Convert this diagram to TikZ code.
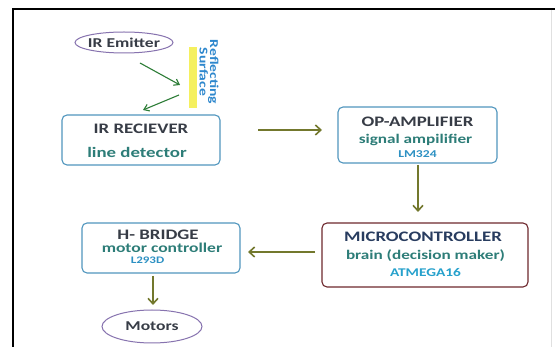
\documentclass[tikz,border=0pt]{standalone}
\usepackage{fontspec}
\setmainfont[FakeStretch=1.3]{Carlito}
\usetikzlibrary{arrows.meta,shapes.geometric}
\definecolor{boxblue}{RGB}{80,150,190}
\definecolor{mcured}{RGB}{110,40,45}
\definecolor{titlegray}{RGB}{55,60,70}
\definecolor{titlenavy}{RGB}{40,60,95}
\definecolor{subteal}{RGB}{45,125,120}
\definecolor{partblue}{RGB}{45,145,195}
\definecolor{olivearr}{RGB}{115,120,45}
\definecolor{greenarr}{RGB}{45,125,55}
\definecolor{ellpurple}{RGB}{135,115,175}
\definecolor{barYellow}{RGB}{245,240,95}
\definecolor{reflblue}{RGB}{45,135,205}
\tikzset{
  blk/.style={draw=boxblue, rounded corners=5pt, line width=1.1pt, inner sep=0pt},
  ell/.style={ellipse, draw=ellpurple, line width=1pt, inner sep=0pt},
  ttl/.style={font=\bfseries\fontsize{14.5}{15}\selectfont, text=titlegray, inner sep=0pt},
  sub/.style={font=\bfseries\fontsize{13}{14}\selectfont, text=subteal, inner sep=0pt},
  part/.style={font=\bfseries\fontsize{11}{12}\selectfont, text=partblue, inner sep=0pt},
  olarr/.style={draw=olivearr, line width=1.7pt, -{Straight Barb[length=5.5pt,width=10pt,line width=1.6pt]}},
  grarr/.style={draw=greenarr, line width=1.1pt, -{Straight Barb[length=5pt,width=7pt]}},
}
\begin{document}
\begin{tikzpicture}[x=1pt,y=-1pt]
\useasboundingbox (0,0) rectangle (555,347);
\fill[white] (0,0) rectangle (555,347);
% frame
\draw[black, line width=2pt] (13,347) -- (13,9) -- (555,9);
\draw[black!12, line width=0.8pt] (551,10) -- (551,347);
% emitter and reflecting surface
\node[ell, minimum width=98pt, minimum height=21pt] (emit) at (124,42.5) {};
\node[font=\bfseries\fontsize{13.5}{14}\selectfont, text=titlegray, inner sep=0pt] (emitT) at (124,42.5) {IR Emitter};
\node[fill=barYellow, minimum width=8pt, minimum height=61pt, inner sep=0pt] (bar) at (192.5,77.5) {};
\node[rotate=-90, align=center, font=\bfseries\fontsize{12}{10.5}\selectfont, text=reflblue, inner sep=0pt] (refl) at (209,72) {Reflecting\\Surface};
% receiver
\node[blk, minimum width=158pt, minimum height=50pt] (recv) at (141,140) {};
\node[ttl] (recvT) at (141,129) {IR RECIEVER};
\node[sub, font=\bfseries\fontsize{14.5}{15}\selectfont] (recvS) at (137,152) {line detector};
% op-amp
\node[blk, minimum width=159pt, minimum height=56pt] (opamp) at (417.5,135) {};
\node[ttl] (opT) at (417.5,122) {OP-AMPLIFIER};
\node[sub, font=\bfseries\fontsize{13.2}{14}\selectfont] (opS) at (415.5,140) {signal ampilifier};
\node[part, font=\bfseries\fontsize{10.5}{11}\selectfont] (opP) at (417.5,154) {LM324};
% microcontroller
\node[blk, draw=mcured, minimum width=206pt, minimum height=64pt] (mcu) at (425,255) {};
\node[ttl, text=titlenavy] (mcuT) at (423,237) {MICROCONTROLLER};
\node[sub, font=\bfseries\fontsize{13.2}{14}\selectfont] (mcuS) at (425.5,256) {brain (decision maker)};
\node[part, font=\bfseries\fontsize{11.8}{12}\selectfont, text=partblue!85!cyan] (mcuP) at (425.5,273) {ATMEGA16};
% h-bridge
\node[blk, minimum width=158pt, minimum height=50pt] (hb) at (161,248) {};
\node[ttl] (hbT) at (158,235) {H- BRIDGE};
\node[sub, font=\bfseries\fontsize{13.5}{14}\selectfont] (hbS) at (162,248) {motor controller};
\node[part, font=\bfseries\fontsize{10}{11}\selectfont] (hbP) at (147.5,260) {L293D};
% motors
\node[ell, minimum width=100pt, minimum height=33pt] (mot) at (152,326.5) {};
\node[font=\bfseries\fontsize{13.5}{14}\selectfont, text=titlegray, inner sep=0pt] (motT) at (152,326.5) {Motors};
% connector end points
\coordinate (ir1s) at (140,63);
\coordinate (ir1e) at (180,85);
\coordinate (ir2s) at (179,95);
\coordinate (ir2e) at (143,110);
\coordinate (a1s) at (258,130);
\coordinate (a1e) at (322,130);
\coordinate (a2s) at (418,165);
\coordinate (a2e) at (418,212);
\coordinate (a3s) at (315,252);
\coordinate (a3e) at (248,252);
\coordinate (a4s) at (153,276);
\coordinate (a4e) at (153,305);
% connectors
\draw[grarr] (ir1s) -- (ir1e);
\draw[grarr] (ir2s) -- (ir2e);
\draw[olarr] (a1s) -- (a1e);
\draw[olarr] (a2s) -- (a2e);
\draw[olarr] (a3s) -- (a3e);
\draw[olarr, line width=1.3pt] (a4s) -- (a4e);
\end{tikzpicture}
\end{document}
